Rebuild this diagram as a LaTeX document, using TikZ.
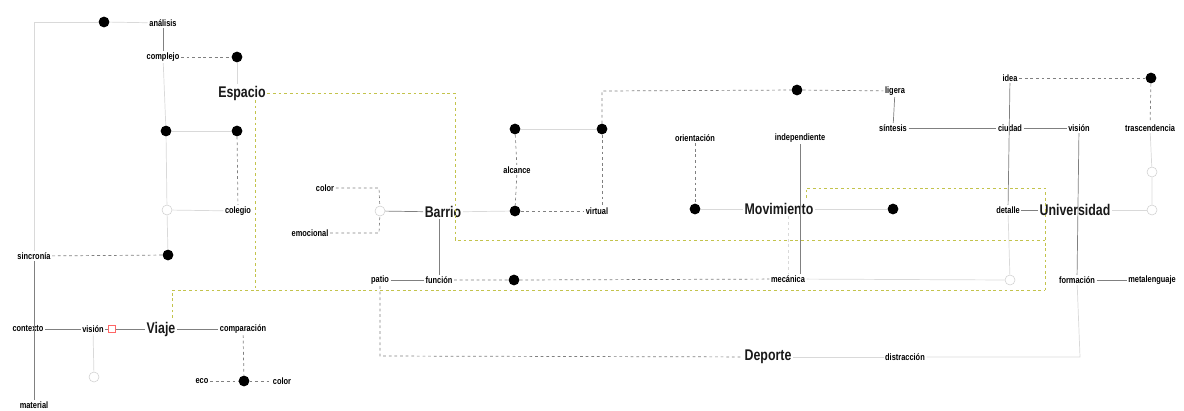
\documentclass[tikz,border=0pt]{standalone}
\usepackage{fontspec}
\setmainfont{Liberation Sans}[FakeStretch = 0.8]
\usepackage{tikz}
\usetikzlibrary{positioning}
\definecolor{zonegreen}{RGB}{195,195,75}
\tikzset{
word/.style = { font = \bfseries\fontsize{6.6}{7}\selectfont, inner sep = 1pt, text = black },
title/.style = { font = \bfseries\fontsize{11}{12}\selectfont, inner sep = 1pt, text = black!90 },
dot/.style = { circle, fill = black, inner sep = 0pt, minimum size = 0.27cm },
hole/.style = { circle, draw = black!18, fill = white, inner sep = 0pt, minimum size = 0.25cm },
mark box/.style = { rectangle, draw = red!60, fill = white, inner sep = 0pt, minimum size = 0.18cm },
tie/.style = { draw = black!50, line width = 0.5pt },
faint/.style = { draw = black!15, line width = 0.5pt },
dashlink/.style = { draw = black!50, line width = 0.5pt, dash pattern = on 2pt off 2pt },
zone/.style = { draw = zonegreen, line width = 0.6pt, dash pattern = on 2pt off 2pt },
}

\begin{document}
\begin{tikzpicture}[x = 0.025cm, y = -0.025cm]
      \useasboundingbox (0, 0) rectangle (1184, 410);

      % left column
      \node[dot] (an) at (104, 22) {};
      \node[word] (analisis) at (163, 23) {análisis};
      \node[word] (complejo) at (163, 57) {complejo};
      \node[dot] (dcomp) at (237, 57) {};
      \node[title] (espacio) at (242, 93) {Espacio};
      \node[dot] (dleft) at (166, 131) {};
      \node[dot] (dright) at (237, 131) {};
      \node[hole] (hcol) at (167, 210) {};
      \node[word] (colegio) at (238, 211) {colegio};
      \node[dot] (dsinc) at (168, 255) {};
      \node[word] (sincronia) at (34, 256) {sincronía};
      \node[word] (contexto) at (28, 329) {contexto};
      \node[word] (material) at (34, 405) {material};
      \node[word] (visionv) at (93, 329) {visión};
      \node[mark box] (sq) at (112, 329) {};
      \node[title] (viaje) at (161, 329) {Viaje};
      \node[word] (comparacion) at (243, 329) {comparación};
      \node[hole] (hvis) at (94, 377) {};
      \node[dot] (dcomparacion) at (244, 381) {};
      \node[word] (eco) at (202, 381) {eco};
      \node[word] (colorv) at (282, 381) {color};

      % centre
      \node[word] (colorb) at (325, 188) {color};
      \node[word] (emocional) at (310, 233) {emocional};
      \node[hole] (hbar) at (380, 211) {};
      \node[title] (barrio) at (443, 212) {Barrio};
      \node[dot] (dalc) at (515, 129) {};
      \node[dot] (dvir) at (602, 129) {};
      \node[word] (alcance) at (517, 170) {alcance};
      \node[dot] (dbar) at (515, 211) {};
      \node[word] (virtual) at (597, 211) {virtual};
      \node[word] (patio) at (380, 280) {patio};
      \node[word] (funcion) at (439, 280) {función};
      \node[dot] (dfun) at (514, 280) {};
      \node[word] (mecanica) at (788, 279) {mecánica};
      \node[title] (deporte) at (768, 357) {Deporte};
      \node[word] (distraccion) at (905, 357) {distracción};
      \node[dot] (dtop) at (797, 90) {};
      \node[word] (ligera) at (895, 91) {ligera};
      \node[word] (orientacion) at (695, 138) {orientación};
      \node[dot] (dori) at (695, 209) {};
      \node[word] (independiente) at (800, 138) {independiente};
      \node[title] (movimiento) at (779, 209) {Movimiento};
      \node[dot] (dmov) at (893, 209) {};

      % right
      \node[word] (sintesis) at (893, 128) {síntesis};
      \node[word] (idea) at (1010, 78) {idea};
      \node[dot] (didea) at (1151, 78) {};
      \node[word] (ciudad) at (1010, 128) {ciudad};
      \node[word] (visionu) at (1079, 128) {visión};
      \node[word] (trascendencia) at (1150, 128) {trascendencia};
      \node[hole] (htra) at (1152, 172) {};
      \node[hole] (huni) at (1152, 210) {};
      \node[word] (detalle) at (1008, 210) {detalle};
      \node[title] (universidad) at (1075, 210) {Universidad};
      \node[hole] (hdet) at (1010, 280) {};
      \node[word] (formacion) at (1077, 280) {formación};
      \node[word] (metalenguaje) at (1152, 280) {metalenguaje};

      \coordinate (cornan) at (34, 22);
      \coordinate (cornvir) at (602, 91);
      \coordinate (cornpat) at (380, 356);
      \coordinate (corndis) at (1080, 357);
      \coordinate (cornbar) at (379, 188);
      \coordinate (cornemo) at (379, 233);

      % zone
      \coordinate (za) at (455, 93);
      \coordinate (zb) at (455, 240);
      \coordinate (zc) at (1045, 240);
      \coordinate (zd) at (806, 188);
      \coordinate (ze) at (1045, 188);
      \coordinate (zf) at (1045, 290);
      \coordinate (zg) at (172, 290);
      \coordinate (zh) at (172, 318);
      \coordinate (zi) at (255, 100);
      \coordinate (zj) at (255, 290);
      \coordinate (zk) at (806, 198);
      \path[zone] (espacio.east) -- (za) -- (zb) -- (zc);
      \path[zone] (zk) -- (zd) -- (ze) -- (zf);
      \path[zone] (zh) -- (zg) -- (zf);
      \path[zone] (zi) -- (zj);

      % links
      \path[faint] (an) -- (analisis);
      \path[faint] (an) -- (cornan) -- (sincronia);
      \path[tie] (analisis) -- (complejo);
      \path[dashlink] (complejo) -- (dcomp);
      \path[faint] (dcomp) -- (dcomp |- espacio.north);
      \path[faint] (complejo) -- (dleft);
      \path[faint] (dleft) -- (dright);
      \path[dashlink] (dright) -- (colegio);
      \path[faint] (dleft) -- (hcol) -- (dsinc);
      \path[faint] (hcol) -- (colegio);
      \path[dashlink] (sincronia) -- (dsinc);
      \path[tie] (sincronia) -- (material);
      \path[tie] (contexto) -- (visionv) -- (sq) -- (viaje) -- (comparacion);
      \path[faint] (visionv) -- (hvis);
      \path[dashlink] (comparacion) -- (dcomparacion);
      \path[dashlink] (eco) -- (dcomparacion) -- (colorv);

      \path[dashlink] (colorb) -- (cornbar) -- (hbar);
      \path[dashlink] (emocional) -- (cornemo) -- (hbar);
      \path[tie] (hbar) -- (barrio);
      \path[faint] (barrio) -- (dbar);
      \path[dashlink] (dbar) -- (virtual);
      \path[faint] (dalc) -- (dvir);
      \path[dashlink] (dalc) -- (alcance) -- (dbar);
      \path[dashlink] (dvir) -- (dvir |- virtual.north);
      \path[dashlink] (dvir) -- (cornvir) -- (dtop) -- (ligera);
      \path[tie] (barrio.south -| funcion) -- (funcion);
      \path[tie] (patio) -- (funcion);
      \path[dashlink] (funcion) -- (dfun) -- (mecanica);
      \path[dashlink] (patio) -- (cornpat) -- (deporte);
      \path[faint] (deporte) -- (distraccion);
      \path[faint] (distraccion) -- (corndis) -- (formacion);
      \path[dashlink] (orientacion) -- (dori);
      \path[faint] (dori) -- (movimiento) -- (dmov);
      \path[tie] (independiente) -- (independiente |- mecanica.north);
      \path[faint, dash pattern = on 2pt off 2pt] (movimiento.south -| mecanica.north) -- (mecanica.north);

      \path[tie] (ligera) -- (sintesis);
      \path[tie] (sintesis) -- (ciudad) -- (visionu);
      \path[dashlink] (idea) -- (didea);
      \path[dashlink] (didea) -- (trascendencia);
      \path[tie] (idea) -- (detalle);
      \path[tie] (visionu) -- (formacion);
      \path[faint] (trascendencia) -- (htra) -- (huni);
      \path[tie] (detalle) -- (universidad);
      \path[faint] (universidad) -- (huni);
      \path[faint] (detalle) -- (hdet);
      \path[faint] (mecanica) -- (hdet);
      \path[tie] (formacion) -- (metalenguaje);
\end{tikzpicture}
\end{document}
